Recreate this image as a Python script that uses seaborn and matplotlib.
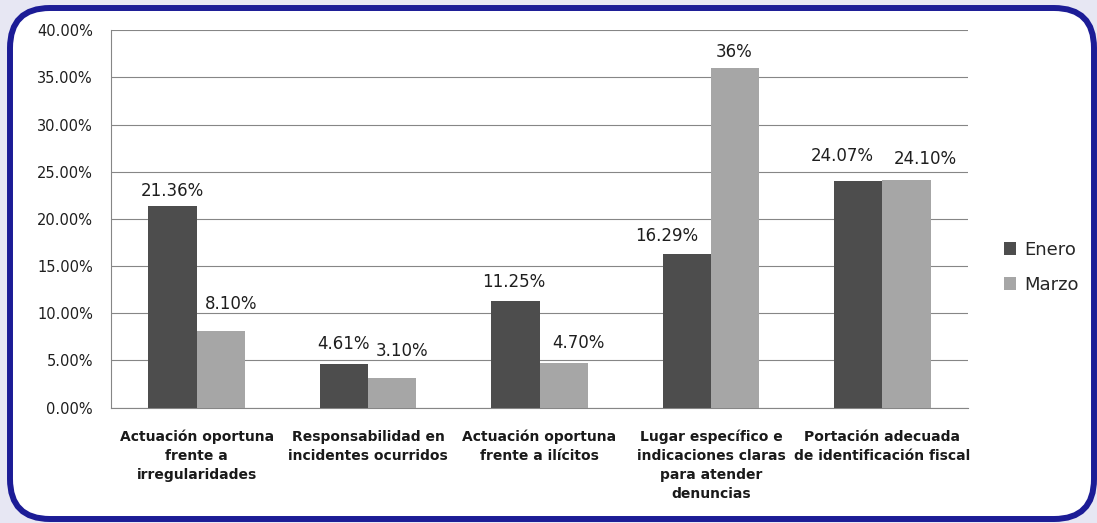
import matplotlib
matplotlib.use("Agg")
import pandas as pd
import matplotlib.pyplot as plt
import seaborn as sns
from matplotlib.patches import FancyBboxPatch
from matplotlib.ticker import FuncFormatter, MultipleLocator, FixedLocator
from matplotlib.transforms import Bbox

# datos del grafico
categorias = [
    "Actuación oportuna\nfrente a\nirregularidades",
    "Responsabilidad en\nincidentes ocurridos",
    "Actuación oportuna\nfrente a ilícitos",
    "Lugar específico e\nindicaciones claras\npara atender\ndenuncias",
    "Portación adecuada\nde identificación fiscal",
]
meses = ["Enero", "Marzo"]
enero = [21.36, 4.61, 11.25, 16.29, 24.07]
marzo = [8.10, 3.10, 4.70, 36.00, 24.10]
etiquetas_enero = ["21.36%", "4.61%", "11.25%", "16.29%", "24.07%"]
etiquetas_marzo = ["8.10%", "3.10%", "4.70%", "36%", "24.10%"]

colores = {"Enero": "#4d4d4d", "Marzo": "#a6a6a6"}
gris = "#868686"

df = pd.DataFrame({
    "categoria": categorias * 2,
    "mes": ["Enero"] * 5 + ["Marzo"] * 5,
    "valor": enero + marzo,
})

sns.set_style("white")
plt.rcParams["font.family"] = ["DejaVu Sans"]

fig = plt.figure(figsize=(10.97, 5.23), dpi=100, facecolor="#e7e7f3")
ax = fig.add_axes([0.1012, 0.2208, 0.7812, 0.7212])

# marco redondeado azul
marco = FancyBboxPatch((10, 4), 1084, 511, boxstyle="round,pad=0,rounding_size=40",
                       transform=None, facecolor="white", edgecolor="#1c1c96",
                       linewidth=4.3, zorder=-1)
fig.add_artist(marco)

sns.barplot(data=df, x="categoria", y="valor", hue="mes", order=categorias,
            hue_order=meses, palette=colores, width=0.5636, saturation=1,
            linewidth=0, ax=ax, zorder=3)

ax.set_ylim(0, 40)
ax.set_xlim(-0.5, 4.5)
ax.yaxis.set_major_locator(MultipleLocator(5))
ax.yaxis.set_major_formatter(FuncFormatter(lambda v, p: f"{v:.2f}%"))
ax.grid(axis="y", color=gris, linewidth=0.8, zorder=0)
ax.set_axisbelow(True)
ax.set_xlabel("")
ax.set_ylabel("")
ax.set_facecolor("none")

for s in ["top", "right"]:
    ax.spines[s].set_visible(False)
for s in ["left", "bottom"]:
    ax.spines[s].set_color(gris)
    ax.spines[s].set_linewidth(0.8)

ax.tick_params(axis="y", which="major", length=5, color=gris, width=0.8,
               labelsize=10.5, labelcolor="#1e1e1e", pad=8)
ax.tick_params(axis="x", which="major", length=0, pad=16)
ax.xaxis.set_minor_locator(FixedLocator([-0.5, 0.5, 1.5, 2.5, 3.5, 4.5]))
ax.tick_params(axis="x", which="minor", length=5, color=gris, width=0.8)
ax.set_xticks(range(len(categorias)))
ax.set_xticklabels(categorias, fontsize=10, fontweight="bold", color="#1a1a1a",
                   linespacing=1.45, va="top")
for lab in ax.get_xticklabels():
    lab.set_clip_on(True)
    lab.set_clip_box(Bbox.from_extents(0, 22, 1097, 523))

# etiquetas de datos (desplazadas como en el original)
desp_enero = [(0, 15), (0, 20), (-2, 19), (-20, 18), (-16, 25)]
desp_marzo = [(10, 27), (10, 27), (15, 20), (-1, 16), (19, 21)]
for cont, textos, desp in zip(ax.containers, [etiquetas_enero, etiquetas_marzo],
                              [desp_enero, desp_marzo]):
    for barra, texto, (dx, dy) in zip(cont, textos, desp):
        x = barra.get_x() + barra.get_width() / 2
        y = barra.get_height()
        ax.annotate(texto, (x, y), xytext=(dx, dy), textcoords="offset pixels",
                    ha="center", va="center", fontsize=12, color="#1e1e1e")

ax.legend(handles=ax.get_legend_handles_labels()[0], labels=meses,
          loc="center left", bbox_to_anchor=(0.915, 0.489),
          bbox_transform=fig.transFigure, frameon=False, fontsize=13,
          handlelength=0.7, handleheight=0.7, handletextpad=0.45,
          labelspacing=0.95, borderpad=0, borderaxespad=0)

fig.savefig("out.png", dpi=100, facecolor=fig.get_facecolor())
